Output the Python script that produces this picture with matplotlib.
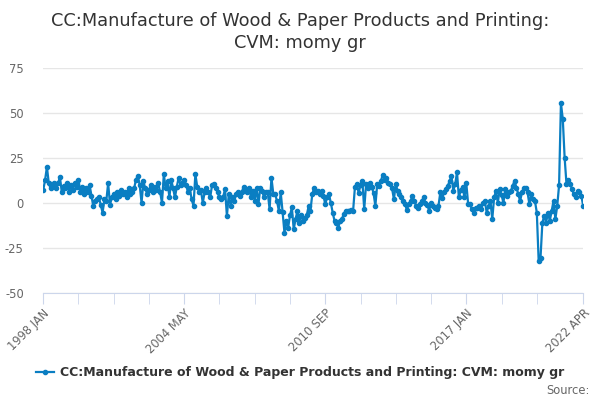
import numpy as np
import matplotlib.pyplot as plt

# monthly values, 1998 JAN .. 2022 APR
y1998 = [7, 12.6, 20, 11, 8, 10, 11, 8.5, 10.8, 14.5, 6, 9.5]
y1999 = [8, 11, 6, 10, 7, 11, 9, 13, 6, 9, 5, 8]
y2000 = [6, 10, 4, -2, 1, 2, 3, -1, -5.5, 2, 1, 11]
y2001 = [-1, 3, 5, 2, 6, 4, 7, 5, 6, 3, 8, 4.8]
y2002 = [6, 8, 13, 15, 10, 0, 12, 8, 5, 7, 10, 6]
y2003 = [9, 7, 11, 6, 0, 16, 8, 12, 3, 13, 8, 3]
y2004 = [9, 14, 10, 11, 13, 10, 6, 8, 2, -1.7, 16, 9]
y2005 = [6, 7, 0, 6, 8.5, 6, 3, 10, 10.4, 8, 6, 3]
y2006 = [2, 3.5, 7.6, -7.4, 4.8, -1.7, 3, 1, 5, 6, 4, 5.8]
y2007 = [9, 7.6, 5.8, 8.5, 3, 6.7, 1, 8.5, -0.7, 8.5, 6.7, 3]
y2008 = [5.8, 5.8, -3.5, 14, 5, 4.8, 1, -4.5, 5.8, -5, -16.5, -10]
y2009 = [-13.7, -7, -2.5, -14.7, -9, -4.5, -11, -6.5, -10, -8.5, -7, -2]
y2010 = [-4.5, 4.8, 8.5, 5.8, 6.7, 4.8, 6.7, 4, -0.7, 3, 4.8, 0]
y2011 = [-5.4, -10, -11, -13.7, -10, -9, -6, -4.5, -4.5, -4.3, -4, -4.5]
y2012 = [9, 10.4, 5.5, 10, 12, -3.5, 10.4, 8.5, 11, 9, 5.5, -1.7]
y2013 = [10.4, 9.5, 12.3, 15.6, 13, 14, 11, 10.4, 8, 2, 10.4, 6.7]
y2014 = [4.8, 3, 1, -0.7, -4, -0.7, 1, 4, 1, -1.7, -2.6, -0.7]
y2015 = [1, 3, 0, -1, -4.5, 0.2, -1.7, -2.6, -3.5, -1.7, 5.8, 2.5]
y2016 = [6, 7.6, 9.5, 12, 15, 6.7, 10.4, 17, 3, 7, 9, 3]
y2017 = [11, -0.7, -0.7, -3.5, -5.4, -3, -3, -1.7, -3.5, 0.2, 1, -5.4]
y2018 = [-1.7, 1, -9, 3, 6.7, 0, 7.6, 4.5, 0, 7.6, 3.9, 5.8]
y2019 = [6.7, 9.5, 12.3, 8.5, 5, 1, 5.8, 8.5, 8.5, 5.8, -0.7, 4.8]
y2020 = [2, 1, -5.4, -32.3, -30.5, -11, -7.2, -11, -5.4, -10, -4.5, 1]
y2021 = [-9, -1.7, 9.8, 55.5, 46.6, 25, 10.4, 13, 10.4, 7.6, 4.8, 3]
y2022 = [6.7, 5.8, 3.9, -1.7]

values = (y1998 + y1999 + y2000 + y2001 + y2002 + y2003 + y2004 + y2005
          + y2006 + y2007 + y2008 + y2009 + y2010 + y2011 + y2012 + y2013
          + y2014 + y2015 + y2016 + y2017 + y2018 + y2019 + y2020 + y2021
          + y2022)
months = np.arange(len(values))

series_name = "CC:Manufacture of Wood & Paper Products and Printing: CVM: momy gr"
title = "CC:Manufacture of Wood & Paper Products and Printing:\nCVM: momy gr"
tick_labels = ["1998 JAN", "2004 MAY", "2010 SEP", "2017 JAN", "2022 APR"]
label_months = [0, 76, 152, 228, 291]
y_ticks = [-50, -25, 0, 25, 50, 75]

BLUE = "#0a7ec2"
AXIS = "#ccd6eb"

fig = plt.figure(figsize=(6, 4), dpi=100)
ax = fig.add_axes([0.072, 0.268, 0.9, 0.562])

ax.plot(months, values, color=BLUE, lw=1.6, marker="o", ms=3,
        label=series_name)

ax.set_xlim(0, len(values) - 1)
ax.set_ylim(-50, 75)
ax.set_yticks(y_ticks)
ax.set_yticklabels([str(v) for v in y_ticks])
ax.grid(axis="y", color="#e6e6e6", lw=1)
ax.set_axisbelow(True)

ax.set_xticks(label_months)
ax.set_xticklabels(tick_labels, rotation=45, ha="right",
                   rotation_mode="anchor")
minor = [m for m in range(0, 267, 19) if m not in label_months]
ax.set_xticks(minor, minor=True)

for s in ["left", "right", "top"]:
    ax.spines[s].set_visible(False)
ax.spines["bottom"].set_color(AXIS)

ax.tick_params(axis="x", which="both", length=8, color=AXIS,
               labelsize=8.3, labelcolor="#666666", pad=2)
ax.tick_params(axis="y", length=0, labelsize=8.3, labelcolor="#666666",
               pad=14)

fig.text(0.5, 0.97, title, ha="center", va="top", fontsize=12.8,
         color="#333333", linespacing=1.25)

fig.legend(loc="center", bbox_to_anchor=(0.5, 0.068), frameon=False,
           handlelength=1.4, handletextpad=0.5,
           prop={"weight": "bold", "size": 9}, labelcolor="#333333")

fig.text(0.982, 0.025, "Source:", ha="right", va="center", fontsize=8.3,
         color="#666666")

fig.savefig("out.png", dpi=100)
